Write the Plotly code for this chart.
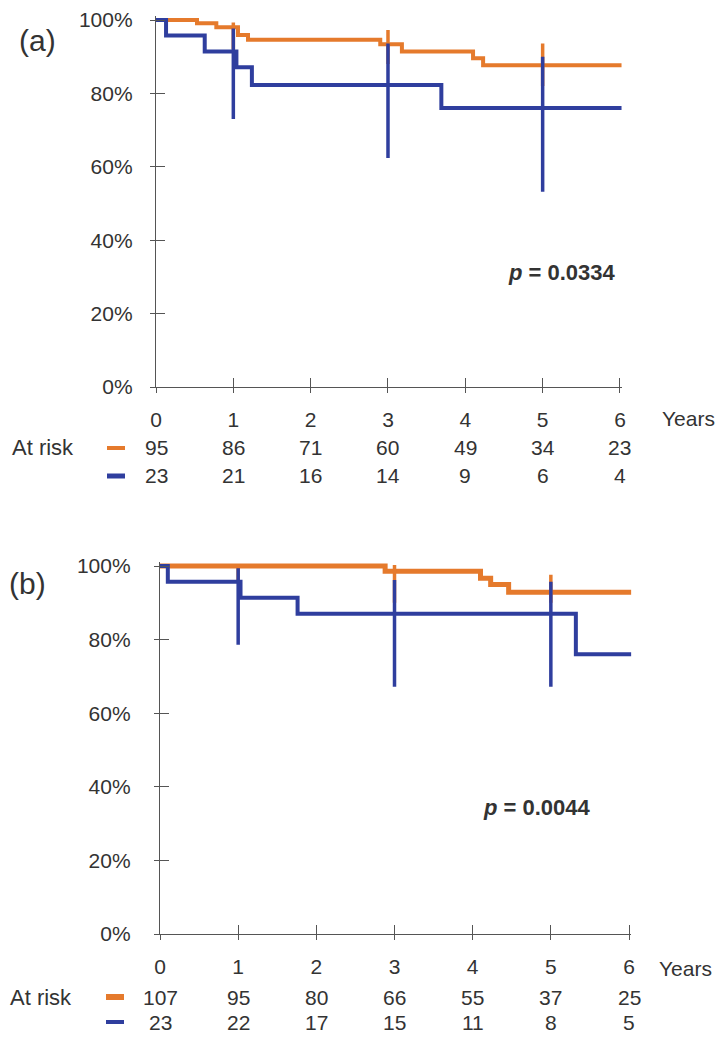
import plotly.graph_objects as go

# page is 726x1041; browser body has an 8px margin, so the figure is 16px smaller
PAGE_W, PAGE_H = 726, 1041
OFF = 8
W, H = PAGE_W - 2 * OFF, PAGE_H - 2 * OFF

# ---------------- data ----------------
years = [0, 1, 2, 3, 4, 5, 6]
pct_ticks = [0, 20, 40, 60, 80, 100]
pct_labels = ["0%", "20%", "40%", "60%", "80%", "100%"]

# Panel (a)
a_orange_t = [0, 0.53, 0.78, 1.06, 1.19, 2.90, 3.18, 4.10, 4.23, 6.02]
a_orange_s = [100, 99.1, 98.0, 95.9, 94.6, 93.4, 91.4, 89.6, 87.7, 87.7]
a_blue_t = [0, 0.13, 0.63, 1.04, 1.24, 3.69, 6.02]
a_blue_s = [100, 95.8, 91.4, 87.1, 82.3, 76.0, 76.0]
a_ci_years = [1, 3, 5]
a_orange_ci_hi = [99.3, 97.3, 93.6]
a_orange_ci_lo = [92.0, 88.0, 82.0]
a_blue_ci_hi = [97.7, 93.6, 90.0]
a_blue_ci_lo = [73.0, 62.4, 53.2]
a_risk_orange = [95, 86, 71, 60, 49, 34, 23]
a_risk_blue = [23, 21, 16, 14, 9, 6, 4]
a_p = "0.0334"

# Panel (b)
b_orange_t = [0, 2.88, 4.10, 4.23, 4.46, 6.03]
b_orange_s = [100, 98.6, 96.7, 95.0, 92.9, 92.9]
b_blue_t = [0, 0.10, 1.03, 1.76, 5.32, 6.03]
b_blue_s = [100, 95.7, 91.4, 87.0, 76.0, 76.0]
b_ci_years = [1, 3, 5]
b_orange_ci_hi = [100.0, 100.3, 97.6]
b_orange_ci_lo = [96.0, 90.0, 90.0]
b_blue_ci_hi = [99.4, 96.2, 95.7]
b_blue_ci_lo = [78.6, 67.2, 67.2]
b_risk_orange = [107, 95, 80, 66, 55, 37, 25]
b_risk_blue = [23, 22, 17, 15, 11, 8, 5]
b_p = "0.0044"

# ---------------- style ----------------
ORANGE = "#E57A2C"
BLUE = "#2F3E9E"
AXC = "#555555"
TXT = "#333333"
FONT = "Liberation Sans, Arial, sans-serif"
FS = 21


def px(p):
    return (p - OFF) / W


def py(p):
    return 1 - (p - OFF) / H


fig = go.Figure()


def bars(xs, lo, hi):
    x, y = [], []
    for xi, l, h in zip(xs, lo, hi):
        x += [xi, xi, None]
        y += [l, h, None]
    return x, y


def add_panel(k, ot, os_, bt, bs, cy, ohi, olo, bhi, blo, ow, bw):
    xa, ya = f"x{'' if k == 1 else k}", f"y{'' if k == 1 else k}"
    fig.add_trace(go.Scatter(x=ot, y=os_, mode="lines", line=dict(color=ORANGE, width=ow, shape="hv"),
                             xaxis=xa, yaxis=ya, showlegend=False, hoverinfo="skip"))
    x, y = bars(cy, olo, ohi)
    fig.add_trace(go.Scatter(x=x, y=y, mode="lines", line=dict(color=ORANGE, width=3.5),
                             xaxis=xa, yaxis=ya, showlegend=False, hoverinfo="skip"))
    fig.add_trace(go.Scatter(x=bt, y=bs, mode="lines", line=dict(color=BLUE, width=bw, shape="hv"),
                             xaxis=xa, yaxis=ya, showlegend=False, hoverinfo="skip"))
    x, y = bars(cy, blo, bhi)
    fig.add_trace(go.Scatter(x=x, y=y, mode="lines", line=dict(color=BLUE, width=3.5),
                             xaxis=xa, yaxis=ya, showlegend=False, hoverinfo="skip"))


add_panel(1, a_orange_t, a_orange_s, a_blue_t, a_blue_s, a_ci_years,
          a_orange_ci_hi, a_orange_ci_lo, a_blue_ci_hi, a_blue_ci_lo, 4, 4)
add_panel(2, b_orange_t, b_orange_s, b_blue_t, b_blue_s, b_ci_years,
          b_orange_ci_hi, b_orange_ci_lo, b_blue_ci_hi, b_blue_ci_lo, 5, 4)

# invisible traces for overlay (inside tick) axes
for xa, ya in [("x3", "y"), ("x", "y3"), ("x4", "y2"), ("x2", "y4")]:
    fig.add_trace(go.Scatter(x=[None], y=[None], xaxis=xa, yaxis=ya, showlegend=False))

XR = [0, 6.03]
YR = [0, 101]


def xaxis(dom, anchor, main=True, overlay=None, standoff=9):
    d = dict(range=XR, domain=dom, anchor=anchor, tickvals=years, showgrid=False, zeroline=False,
             tickcolor=AXC, tickwidth=1.3, fixedrange=True)
    if main:
        d.update(showline=True, linecolor=AXC, linewidth=1.3, ticks="outside", ticklen=5,
                 tickfont=dict(family=FONT, size=FS, color=TXT), ticklabelstandoff=standoff)
    else:
        d.update(overlaying=overlay, showline=False, ticks="inside", ticklen=9, showticklabels=False)
    return d


def yaxis(dom, anchor, main=True, overlay=None, standoff=14):
    d = dict(range=YR, domain=dom, anchor=anchor, tickvals=pct_ticks, showgrid=False, zeroline=False,
             tickcolor=AXC, tickwidth=1.3, fixedrange=True)
    if main:
        d.update(showline=True, linecolor=AXC, linewidth=1.3, ticks="outside", ticklen=5,
                 ticktext=pct_labels, tickfont=dict(family=FONT, size=FS, color=TXT),
                 ticklabelstandoff=standoff)
    else:
        d.update(overlaying=overlay, showline=False, ticks="inside", ticklen=9, showticklabels=False)
    return d


xa_dom = [px(156), px(156 + 6.03 * 77.33)]
ya_dom = [py(387), py(387 - 101 * 3.67)]
xb_dom = [px(160), px(160 + 6.03 * 78.17)]
yb_dom = [py(934), py(934 - 101 * 3.68)]

fig.update_layout(
    width=W, height=H, margin=dict(l=0, r=0, t=0, b=0, autoexpand=False),
    paper_bgcolor="white", plot_bgcolor="white",
    xaxis=xaxis(xa_dom, "y"), yaxis=yaxis(ya_dom, "x", standoff=13),
    xaxis2=xaxis(xb_dom, "y2"), yaxis2=yaxis(yb_dom, "x2", standoff=19),
    xaxis3=xaxis(xa_dom, "y", main=False, overlay="x"), yaxis3=yaxis(ya_dom, "x", main=False, overlay="y"),
    xaxis4=xaxis(xb_dom, "y2", main=False, overlay="x2"), yaxis4=yaxis(yb_dom, "x2", main=False, overlay="y2"),
)

ann = []
shapes = []


def txt(x, y, s, xref="paper", anchor="center", size=FS):
    ann.append(dict(x=x, y=y, xref=xref, yref="paper", text=s, showarrow=False, xanchor=anchor,
                    yanchor="middle", font=dict(family=FONT, size=size, color=TXT)))


def table(xref, risk_o, risk_b, y_years, y_r1, y_r2, years_x, atrisk_x, dash_x, dw_o, dw_b):
    txt(px(years_x), py(y_years), "Years", anchor="left")
    txt(px(atrisk_x), py(y_r1), "At risk", anchor="left", size=22)
    for yr, no, nb in zip(years, risk_o, risk_b):
        txt(yr, py(y_r1), str(no), xref=xref)
        txt(yr, py(y_r2), str(nb), xref=xref)
    shapes.append(dict(type="line", xref="paper", yref="paper", x0=px(dash_x[0]), x1=px(dash_x[1]),
                       y0=py(y_r1), y1=py(y_r1), line=dict(color=ORANGE, width=dw_o)))
    shapes.append(dict(type="line", xref="paper", yref="paper", x0=px(dash_x[0]), x1=px(dash_x[1]),
                       y0=py(y_r2), y1=py(y_r2), line=dict(color=BLUE, width=dw_b)))


table("x", a_risk_orange, a_risk_blue, 418, 448, 476, 660, 10, (107, 125), 4, 5)
table("x2", b_risk_orange, b_risk_blue, 968, 997, 1022, 657, 8, (106, 124), 6, 4)

txt(px(17), py(40), "(a)", anchor="left", size=30)
txt(px(7), py(583), "(b)", anchor="left", size=30)

ann.append(dict(x=5.97, y=31.3, xref="x", yref="y", text=f"<b><i>p</i> = {a_p}</b>", showarrow=False,
                xanchor="right", yanchor="middle", font=dict(family=FONT, size=22, color=TXT)))
ann.append(dict(x=5.54, y=34.5, xref="x2", yref="y2", text=f"<b><i>p</i> = {b_p}</b>", showarrow=False,
                xanchor="right", yanchor="middle", font=dict(family=FONT, size=22, color=TXT)))

fig.update_layout(annotations=ann, shapes=shapes)
fig.write_html("out.html")
